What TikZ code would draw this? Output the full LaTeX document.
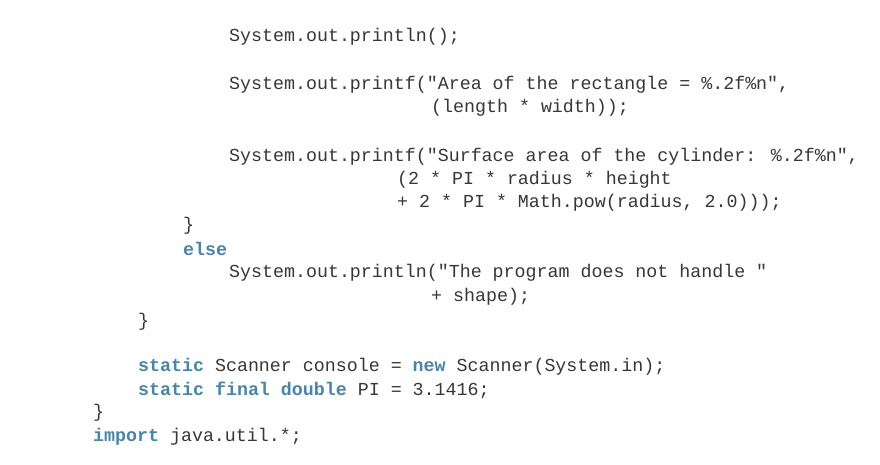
\documentclass[tikz,border=0pt]{standalone}
\usepackage{fontspec}
\usepackage{xcolor}
\newfontfamily\codefont{Liberation Mono}
\definecolor{kwblue}{RGB}{72,132,172}
\definecolor{codegray}{RGB}{55,55,55}
\newcommand{\kw}[1]{\textcolor{kwblue}{\bfseries #1}}

\begin{document}
\begin{tikzpicture}[x=1pt,y=-1pt]
    \tikzset{codeline/.style={anchor=west, inner sep=0pt, text=codegray, font=\codefont\fontsize{18.3}{20}\selectfont}}

    % page frame
    \useasboundingbox[fill=white] (0,0) rectangle (880,465);

    % listing lines
    \node[codeline] (l1) at (229,37) {System.out.println();};
    \node[codeline] (l2) at (229,85) {System.out.printf("Area of the rectangle = \%.2f\%n",};
    \node[codeline] (l3) at (431,108) {(length * width));};
    \node[codeline] (l4) at (229,157) {System.out.printf("Surface area of the cylinder: \%.2f\%n",};
    \node[codeline] (l5) at (397,180) {(2 * PI * radius * height};
    \node[codeline] (l6) at (397,203) {+ 2 * PI * Math.pow(radius, 2.0)));};
    \node[codeline] (l7) at (183,226) {\}};
    \node[codeline] (l8) at (183,249) {\kw{else}};
    \node[codeline] (l9) at (229,273) {System.out.println("The program does not handle "};
    \node[codeline] (l10) at (431,297) {+ shape);};
    \node[codeline] (l11) at (138,322) {\}};
    \node[codeline] (l12) at (138,367) {\kw{static} Scanner console = \kw{new} Scanner(System.in);};
    \node[codeline] (l13) at (138,390) {\kw{static} \kw{final} \kw{double} PI = 3.1416;};
    \node[codeline] (l14) at (93,413) {\}};
    \node[codeline] (l15) at (93,437) {\kw{import} java.util.*;};
\end{tikzpicture}
\end{document}
